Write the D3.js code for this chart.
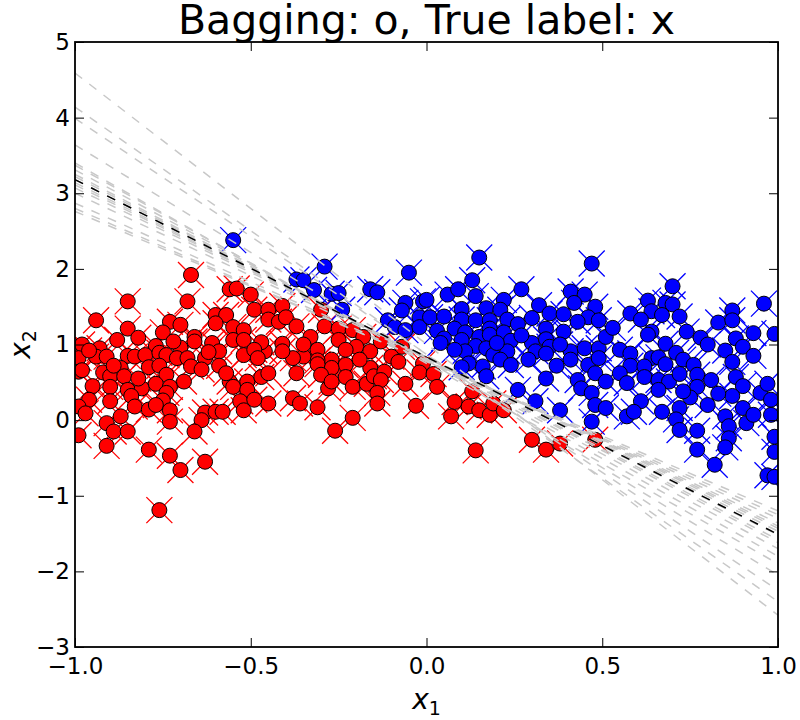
<!DOCTYPE html>
<html>
<head>
<meta charset="utf-8">
<script src="https://cdn.jsdelivr.net/npm/d3@7"></script>
<style>
  body { margin: 0; background: #fff; }
  text { font-family: "DejaVu Sans", sans-serif; }
</style>
</head>
<body>
<div id="vis"></div>
<script>
// chart size
const width = 800;
const height = 720;

// plot area
const margin = { top: 42, left: 75, right: 22, bottom: 73 };

// tick values
const xTicks = [-1.0, -0.5, 0.0, 0.5, 1.0];
const yTicks = [-3, -2, -1, 0, 1, 2, 3, 4, 5];

// points predicted (and labelled) as class 0 : red
const redPoints = [
  [-0.67,1.92],[-0.85,1.57],[-0.68,1.57],[-0.94,1.32],[-0.85,1.21],[-0.73,1.30],[-0.70,1.26],[-0.75,1.16],[-0.82,1.09],[-0.88,1.06],
  [-0.56,1.73],[-0.54,1.74],[-0.50,1.66],[-0.60,1.39],[-0.57,1.39],[-0.60,1.28],[-0.55,1.23],[-0.52,1.19],[-0.55,1.06],[-0.52,1.06],
  [-0.98,1.00],[-0.93,0.95],[-0.77,0.98],[-0.70,0.96],[-0.72,1.04],[-0.66,1.10],[-0.66,1.04],[-0.61,1.02],[-0.59,0.91],[-0.99,0.82],
  [-0.94,0.84],[-0.91,0.84],[-0.85,0.85],[-0.83,0.84],[-0.80,0.86],[-0.76,0.89],[-0.74,0.86],[-0.71,0.82],[-0.68,0.82],[-0.63,0.82],
  [-0.52,0.86],[-0.99,0.64],[-0.98,0.66],[-0.92,0.63],[-0.87,0.69],[-0.90,0.58],[-0.86,0.58],[-0.79,0.70],[-0.76,0.72],[-0.67,0.71],
  [-0.64,0.67],[-0.59,0.72],[-0.74,0.60],[-0.69,0.51],[-0.56,0.51],[-0.55,0.44],[-0.51,0.51],[-0.95,0.45],[-0.90,0.44],[-0.85,0.40],
  [-0.81,0.42],[-0.77,0.48],[-0.73,0.44],[-0.74,0.36],[-0.51,0.40],[-0.96,0.27],[-0.90,0.25],[-0.84,0.32],[-0.83,0.18],[-0.75,0.26],
  [-0.53,0.25],[-0.52,0.13],[-0.99,0.18],[-0.97,0.09],[-0.79,0.14],[-0.77,0.20],[-0.73,0.13],[-0.63,0.10],[-0.60,0.11],[-0.58,0.11],
  [-0.64,0.00],[-0.73,-0.02],[-0.91,-0.04],[-0.87,0.05],[-0.89,-0.15],[-0.85,-0.15],[-0.66,-0.15],[-0.99,-0.20],[-0.91,-0.34],[-0.79,-0.39],
  [-0.73,-0.47],[-0.63,-0.55],[-0.70,-0.66],[-0.76,-1.19],
  [-0.49,1.46],[-0.45,1.46],[-0.41,1.51],[-0.45,1.33],[-0.42,1.30],[-0.40,1.36],[-0.37,1.24],[-0.30,1.46],[-0.29,1.24],[-0.25,1.21],
  [-0.33,1.10],[-0.25,1.06],[-0.21,1.19],[-0.18,1.10],[-0.20,0.97],[-0.16,0.91],[-0.13,1.04],[-0.07,0.97],[-0.10,0.84],[-0.08,0.77],
  [-0.01,0.75],[-0.23,0.93],[-0.31,0.93],[-0.27,0.80],[-0.31,0.79],[-0.35,0.84],[-0.38,0.82],[-0.41,1.01],[-0.41,0.91],[-0.46,0.91],
  [-0.47,1.03],[-0.49,0.93],[-0.48,0.82],[-0.23,0.73],[-0.27,0.69],[-0.31,0.74],[-0.30,0.60],[-0.23,0.57],[-0.21,0.44],[-0.28,0.42],
  [-0.27,0.51],[-0.16,0.69],[-0.17,0.48],[-0.15,0.58],[-0.12,0.64],[-0.13,0.53],[-0.14,0.36],[-0.14,0.22],[-0.06,0.48],[-0.02,0.63],
  [-0.03,0.19],[-0.47,0.57],[-0.45,0.62],[-0.38,0.29],[-0.36,0.22],[-0.45,0.22],[-0.49,0.27],[-0.31,0.17],[-0.21,0.03],[-0.26,-0.14],
  [0.02,0.61],[0.03,0.44],[0.13,0.38],[0.08,0.24],[0.12,0.18],[0.15,0.13],[0.18,0.07],[0.19,0.22],[0.22,0.13],[0.07,0.05],
  [0.14,-0.40],[0.30,-0.26],[0.34,-0.39],[0.38,-0.31],[0.48,-0.26],
  [-0.96,0.92],[-0.89,0.72],[-0.82,0.55],[-0.62,0.90],[-0.57,0.62],[-0.35,1.00],[-0.19,0.80],[-0.37,0.62]
];

// points predicted (and labelled) as class 1 : blue
const bluePoints = [
  [-0.55,2.38],[-0.29,2.03],[-0.05,1.95],[-0.37,1.86],[-0.35,1.85],[-0.32,1.72],[-0.27,1.67],[-0.25,1.68],[-0.16,1.73],[-0.14,1.69],
  [-0.06,1.55],[-0.01,1.57],[-0.07,1.45],[-0.11,1.32],[-0.02,1.36],[-0.09,1.23],[-0.06,1.19],[-0.02,1.23],[-0.24,1.46],
  [0.15,2.15],[0.47,2.07],[0.13,1.85],[0.27,1.73],[0.41,1.70],[0.45,1.66],[0.06,1.66],[0.09,1.73],[0.00,1.59],[0.14,1.64],
  [0.22,1.59],[0.32,1.52],[0.42,1.55],[0.48,1.50],[0.10,1.47],[0.17,1.48],[0.21,1.46],[0.35,1.41],[0.39,1.40],[0.46,1.36],
  [0.01,1.36],[0.05,1.37],[0.10,1.33],[0.14,1.32],[0.18,1.32],[0.23,1.33],[0.30,1.35],[0.43,1.30],[0.49,1.32],[0.26,1.27],
  [0.34,1.21],[0.39,1.17],[0.03,1.18],[0.08,1.21],[0.11,1.16],[0.15,1.10],[0.18,1.21],[0.18,1.13],[0.22,1.16],[0.05,1.08],
  [0.10,1.06],[0.24,1.05],[0.30,1.02],[0.34,1.07],[0.35,0.97],[0.41,0.91],[0.45,0.95],[0.49,0.95],[0.14,0.98],[0.17,0.95],
  [0.11,0.91],[0.19,0.86],[0.23,0.91],[0.31,0.91],[0.34,0.88],[0.21,0.80],[0.24,0.73],[0.37,0.72],[0.46,0.73],[0.49,0.82],
  [0.41,0.80],[0.16,0.71],[0.12,0.75],[0.08,0.93],[0.04,1.02],[0.34,0.55],[0.43,0.53],[0.44,0.42],[0.48,0.62],[0.47,0.36],
  [0.48,0.20],[0.31,0.25],[0.38,0.13],[0.26,0.40],[0.47,-0.02],[0.17,0.58],[0.10,0.70],
  [0.70,1.77],[0.96,1.54],[0.63,1.58],[0.68,1.55],[0.70,1.53],[0.87,1.45],[0.58,1.41],[0.64,1.44],[0.67,1.39],[0.72,1.37],
  [0.61,1.33],[0.83,1.29],[0.87,1.32],[0.64,1.17],[0.63,1.13],[0.74,1.17],[0.78,1.09],[0.88,1.08],[0.93,1.15],[0.90,0.97],
  [0.99,1.14],[0.51,1.10],[0.55,0.93],[0.58,0.88],[0.68,1.01],[0.71,0.89],[0.85,0.92],[0.64,0.82],[0.66,0.83],[0.73,0.80],
  [0.76,0.73],[0.87,0.77],[0.58,0.72],[0.62,0.71],[0.68,0.74],[0.55,0.62],[0.51,0.51],[0.57,0.49],[0.62,0.57],[0.66,0.53],
  [0.69,0.51],[0.72,0.61],[0.77,0.60],[0.77,0.44],[0.81,0.53],[0.88,0.57],[0.90,0.45],[0.87,0.32],[0.83,0.35],[0.75,0.30],
  [0.73,0.38],[0.66,0.40],[0.61,0.25],[0.51,0.16],[0.57,0.05],[0.59,0.11],[0.67,0.11],[0.72,0.16],[0.71,0.01],[0.72,-0.13],
  [0.77,-0.14],[0.77,-0.39],[0.82,-0.59],[0.85,0.05],[0.86,-0.08],[0.86,-0.24],[0.85,-0.36],[0.91,-0.04],[0.90,0.16],[0.93,0.07],
  [0.95,0.36],[0.98,0.27],[0.97,0.48],[0.98,0.07],[0.99,-0.22],[0.99,-0.42],[0.97,-0.73],[0.99,-0.75],
  [0.27,1.12],[0.20,1.02],[0.38,1.00],[0.29,0.80],[0.53,1.22],[0.80,1.00],[0.93,0.85],[0.80,0.20]
];

// decision boundaries of the bagged models: x2 at x1 = -1 and at x1 = 1
const modelStart = [4.59, 4.14, 3.99, 3.64, 3.40, 3.37, 3.31, 3.25, 3.22, 3.18, 3.14, 3.11, 3.07, 3.00, 2.87, 2.80, 2.76];
const modelEnd   = [-2.58, -2.40, -2.25, -2.05, -1.90, -1.80, -1.70, -1.62, -1.58, -1.52, -1.47, -1.43, -1.40, -1.36, -1.30, -1.25, -1.20];

// boundary of the bagged ensemble
const baggedLine = [3.18, -1.51];

let svg = d3.select('#vis')
  .append('svg')
  .attr('width', width)
  .attr('height', height);

// scales
let xScale = d3.scaleLinear()
  .domain([-1, 1])
  .range([margin.left, width - margin.right]);

let yScale = d3.scaleLinear()
  .domain([-3, 5])
  .range([height - margin.bottom, margin.top]);

svg.append('clipPath')
  .attr('id', 'plotClip')
  .append('rect')
  .attr('x', margin.left)
  .attr('y', margin.top)
  .attr('width', width - margin.left - margin.right)
  .attr('height', height - margin.top - margin.bottom);

let plot = svg.append('g').attr('clip-path', 'url(#plotClip)');

// true labels: x markers, drawn first so the circles sit on top
const xSize = 13;
function drawCrosses(points, colour) {
  plot.append('g')
    .selectAll('path')
    .data(points)
    .join('path')
    .attr('d', d => {
      let cx = xScale(d[0]), cy = yScale(d[1]);
      return `M${cx - xSize},${cy - xSize}L${cx + xSize},${cy + xSize}M${cx - xSize},${cy + xSize}L${cx + xSize},${cy - xSize}`;
    })
    .attr('stroke', colour)
    .attr('stroke-width', 1.3)
    .attr('fill', 'none');
}
drawCrosses(redPoints, '#ff0000');
drawCrosses(bluePoints, '#0000ff');

// bagging predictions: circles
function drawCircles(points, colour) {
  plot.append('g')
    .selectAll('circle')
    .data(points)
    .join('circle')
    .attr('cx', d => xScale(d[0]))
    .attr('cy', d => yScale(d[1]))
    .attr('r', 7.5)
    .attr('fill', colour)
    .attr('stroke', 'black')
    .attr('stroke-width', 1);
}
drawCircles(redPoints, '#ff0000');
drawCircles(bluePoints, '#0000ff');

// the single model boundaries
plot.append('g')
  .selectAll('line')
  .data(d3.range(modelStart.length))
  .join('line')
  .attr('x1', xScale(-1))
  .attr('x2', xScale(1))
  .attr('y1', i => yScale(modelStart[i]))
  .attr('y2', i => yScale(modelEnd[i]))
  .attr('stroke', '#c8c8c8')
  .attr('stroke-width', 1.5)
  .attr('stroke-dasharray', '9,9');

// the bagged boundary
plot.append('line')
  .attr('x1', xScale(-1))
  .attr('x2', xScale(1))
  .attr('y1', yScale(baggedLine[0]))
  .attr('y2', yScale(baggedLine[1]))
  .attr('stroke', 'black')
  .attr('stroke-width', 1.5)
  .attr('stroke-dasharray', '9,9');

// axes, ticks point inward like matplotlib classic
let fmtX = d3.format('.1f');
svg.append('g')
  .attr('transform', `translate(0,${height - margin.bottom})`)
  .call(d3.axisBottom(xScale).tickValues(xTicks).tickFormat(fmtX).tickSizeInner(-9).tickSizeOuter(0).tickPadding(11))
  .call(g => g.select('.domain').remove())
  .selectAll('text').attr('font-size', 23).attr('font-family', 'DejaVu Sans');

svg.append('g')
  .attr('transform', `translate(0,${margin.top})`)
  .call(d3.axisTop(xScale).tickValues(xTicks).tickFormat('').tickSizeInner(-9).tickSizeOuter(0))
  .call(g => g.select('.domain').remove());

svg.append('g')
  .attr('transform', `translate(${margin.left},0)`)
  .call(d3.axisLeft(yScale).tickValues(yTicks).tickFormat(d3.format('d')).tickSizeInner(-9).tickSizeOuter(0).tickPadding(5))
  .call(g => g.select('.domain').remove())
  .selectAll('text').attr('font-size', 23).attr('font-family', 'DejaVu Sans');

svg.append('g')
  .attr('transform', `translate(${width - margin.right},0)`)
  .call(d3.axisRight(yScale).tickValues(yTicks).tickFormat('').tickSizeInner(-9).tickSizeOuter(0))
  .call(g => g.select('.domain').remove());

// frame
svg.append('rect')
  .attr('x', margin.left)
  .attr('y', margin.top)
  .attr('width', width - margin.left - margin.right)
  .attr('height', height - margin.top - margin.bottom)
  .attr('fill', 'none')
  .attr('stroke', 'black')
  .attr('stroke-width', 1.8);

// title
svg.append('text')
  .attr('x', (xScale(-1) + xScale(1)) / 2)
  .attr('y', 34)
  .attr('text-anchor', 'middle')
  .attr('font-size', 41)
  .text('Bagging: o, True label: x');

// axis labels
let xl = svg.append('text')
  .attr('x', (xScale(-1) + xScale(1)) / 2)
  .attr('y', 709)
  .attr('text-anchor', 'middle')
  .attr('font-family', 'DejaVu Serif')
  .attr('font-size', 28);
xl.append('tspan').attr('font-style', 'italic').text('x');
xl.append('tspan').attr('font-size', 19).attr('dy', 6).text('1');

let yl = svg.append('text')
  .attr('transform', `translate(30,${(yScale(-3) + yScale(5)) / 2}) rotate(-90)`)
  .attr('text-anchor', 'middle')
  .attr('font-family', 'DejaVu Serif')
  .attr('font-size', 28);
yl.append('tspan').attr('font-style', 'italic').text('x');
yl.append('tspan').attr('font-size', 19).attr('dy', 6).text('2');
</script>
</body>
</html>
